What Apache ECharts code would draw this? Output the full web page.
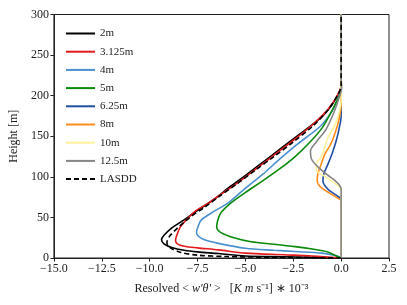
<!DOCTYPE html>
<html><head><meta charset="utf-8">
<script src="https://cdn.jsdelivr.net/npm/echarts@6/dist/echarts.min.js"></script>
<style>html,body{margin:0;padding:0;background:#fff}#c{width:407px;height:305px}</style>
</head><body><div id="c"></div>
<script>
// [flux x1e-3, height m]
const names = ['2m','3.125m','4m','5m','6.25m','8m','10m','12.5m','LASDD'];
const colors = ['#000000','#e41a1c','#4a8fd0','#0a8a0a','#1f4ea3','#ff8c1a','#fff29a','#858585','#000000'];
const s2m = [[0,0],[-3,1.5],[-5,2.5],[-6.4,5.5],[-7.5,7.5],[-8.2,9.5],[-8.85,13],[-9.25,17.5],[-9.38,22.5],[-9.25,28],[-8.9,36],[-8.2,47],[-7.6,57],[-6.6,73],[-5.9,86],[-5.2,98],[-4.2,116],[-3.2,134],[-2.2,152],[-1.1,172],[-0.5,188],[-0.2,200],[0,210],[0,300]];
const s3125 = [[0,0],[-1.5,2.5],[-3,4],[-5,6],[-6.4,10],[-7.5,12.5],[-8.2,14.5],[-8.55,17.5],[-8.65,22],[-8.55,30],[-8.4,38],[-8.0,49],[-7.6,58],[-6.9,68],[-6.3,78],[-5.5,91],[-4.6,107],[-3.6,125],[-2.6,143],[-1.6,162],[-0.8,180],[-0.3,196],[-0.1,205],[0,212],[0,300]];
const s4m = [[0,0],[-0.3,3],[-1,6],[-2.4,8],[-3.5,9.5],[-5,12],[-6.4,18],[-7.2,23],[-7.5,28],[-7.55,32],[-7.45,40],[-7.3,47],[-6.6,58],[-5.9,68],[-5.1,84],[-4.1,103],[-3.2,122],[-2.3,140],[-1.1,162],[-0.5,180],[-0.2,195],[0,210],[0,300]];
const s5m = [[0,0],[-0.3,3],[-0.7,7.5],[-1.5,11],[-2.4,14],[-3.5,17],[-4.7,20],[-5.6,25],[-6.25,31],[-6.5,38],[-6.45,46],[-6.3,55],[-5.8,67],[-5.05,80],[-4.1,95],[-3.2,110],[-2.4,125],[-1.7,141],[-1.0,160],[-0.4,185],[-0.1,200],[0,208],[0,300]];
const s625 = [[0,0],[0,72],[-0.3,78],[-0.7,85],[-0.95,95],[-0.9,104],[-0.7,115],[-0.45,130],[-0.25,145],[-0.1,160],[0,175],[0,300]];
const s8m = [[0,0],[0,70],[-0.2,74],[-0.6,80],[-1.05,87],[-1.25,95],[-1.2,105],[-1.05,115],[-0.85,128],[-0.55,140],[-0.3,155],[-0.1,172],[0,190],[0,300]];
const s10m = [[0,0],[0,84],[-0.45,94],[-0.95,102],[-1.3,108],[-1.3,115],[-1.0,126],[-0.7,148],[-0.3,165],[-0.1,180],[0,195],[0,300]];
const s125 = [[0,0],[0,85],[-0.3,95],[-0.7,102],[-1.2,112],[-1.55,122],[-1.6,132],[-1.3,143],[-0.8,158],[-0.4,178],[-0.1,198],[0.03,210],[0,220],[0,300]];
const sLas = [[0,0],[-2,0.6],[-4,1],[-6,1.8],[-7.5,3.5],[-8.4,7],[-8.95,13],[-9.1,19],[-8.95,27],[-8.5,38],[-7.9,50],[-7.1,63],[-6.3,77],[-5.4,92],[-4.5,108],[-3.5,125],[-2.5,143],[-1.5,162],[-0.7,182],[-0.2,200],[0,212],[0,300]];
const seriesData = [s2m,s3125,s4m,s5m,s625,s8m,s10m,s125,sLas];
const xTicks = [-15,-12.5,-10,-7.5,-5,-2.5,0,2.5];
const yTicks = [0,50,100,150,200,250,300];

const FONT = 'Liberation Serif';
const chart = echarts.init(document.getElementById('c'), null, {renderer:'canvas'});
const fmtX = v => (v < 0 ? '\u2212' : '') + Math.abs(v).toFixed(1);
chart.setOption({
  animation:false,
  backgroundColor:'#fff',
  grid:{left:51,right:18,top:14.5,bottom:47,show:true,borderColor:'#222',borderWidth:1,backgroundColor:'transparent'},
  legend:{
    show:true,orient:'vertical',left:60,top:23,itemWidth:29,itemHeight:12,itemGap:7.2,
    data:names,
    itemStyle:{opacity:0},
    textStyle:{fontFamily:FONT,fontSize:11,color:'#222'}
  },
  xAxis:{
    type:'value',min:xTicks[0],max:xTicks[xTicks.length-1],interval:2.5,
    name:'{r|Resolved }{r|< }{i|w′θ′}{r| >   [}{i|K m} {r|s⁻¹] ∗ 10⁻³}',
    nameLocation:'middle',nameGap:25,
    nameTextStyle:{fontFamily:FONT,fontSize:12,color:'#222',rich:{r:{fontFamily:FONT,fontSize:12,color:'#222'},i:{fontFamily:FONT,fontSize:12,fontStyle:'italic',color:'#222'}}},
    axisLine:{onZero:false,lineStyle:{color:'#222',width:1}},
    axisTick:{inside:false,length:3.5,lineStyle:{color:'#222'}},
    axisLabel:{formatter:fmtX,fontFamily:FONT,fontSize:12,color:'#222',margin:5},
    splitLine:{show:false}
  },
  yAxis:{
    type:'value',min:0,max:300,interval:50,
    name:'Height [m]',nameLocation:'middle',nameGap:33,nameRotate:90,
    nameTextStyle:{fontFamily:FONT,fontSize:12,color:'#222'},
    axisLine:{show:true,onZero:false,lineStyle:{color:'#222',width:1}},
    axisTick:{show:true,inside:false,length:3.5,lineStyle:{color:'#222'}},
    axisLabel:{fontFamily:FONT,fontSize:12,color:'#222',margin:5},
    splitLine:{show:false}
  },
  series: names.map((n,i)=>({
    name:n,type:'line',data:seriesData[i],showSymbol:false,symbol:'none',smooth:0.3,
    z: 2+i,
    lineStyle:{color:colors[i],width:1.6,type: n==='LASDD' ? [5,3] : 'solid'},
    itemStyle:{color:colors[i]}
  }))
});
</script></body></html>
